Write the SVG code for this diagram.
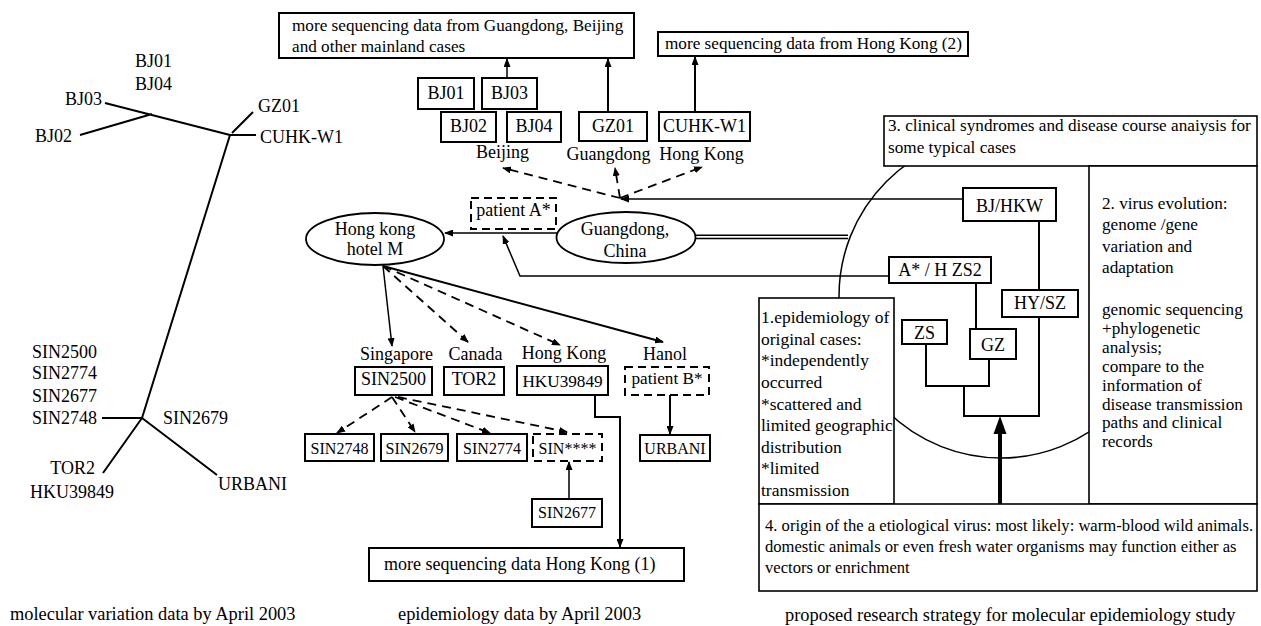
<svg xmlns="http://www.w3.org/2000/svg" width="1261" height="626" viewBox="0 0 1261 626">
<defs>
<marker id="ah" markerWidth="9" markerHeight="7" refX="8" refY="3.5" orient="auto" markerUnits="userSpaceOnUse"><path d="M0,0 L9,3.5 L0,7 z" fill="#000"/></marker>
<style>
text{font-family:"Liberation Serif","Times New Roman",serif;fill:#000}
.t18{font-size:18px}
.t17{font-size:17.2px}
.t16{font-size:16px}
.cap{font-size:18.4px}
.c{text-anchor:middle}
.e{text-anchor:end}
.box{fill:#fff;stroke:#000;stroke-width:2}
.box15{fill:#fff;stroke:#000;stroke-width:1.6}
.dbox{fill:#fff;stroke:#000;stroke-width:2;stroke-dasharray:8 5}
.ln{fill:none;stroke:#000;stroke-width:1.5}
.tk{fill:none;stroke:#000;stroke-width:2}
.ds{fill:none;stroke:#000;stroke-width:1.8;stroke-dasharray:9 6}
</style>
</defs>
<rect x="0" y="0" width="1261" height="626" fill="#fff"/>

<!-- left: molecular variation tree -->
<g id="tree">
<path class="tk" d="M105,103 L230,135 M80,135 L152,114 M232,133 L253,112 M230,135 L256,135 M230,135 L142,418 M102,418 L142,418 M142,418 L103,473 M142,418 L217,475"/>
<text class="t18" x="135" y="67">BJ01</text>
<text class="t18" x="135" y="90">BJ04</text>
<text class="t18" x="65" y="105">BJ03</text>
<text class="t18" x="35" y="142">BJ02</text>
<text class="t18" x="258" y="112">GZ01</text>
<text class="t18" x="260" y="143">CUHK-W1</text>
<text class="t18" x="32" y="358">SIN2500</text>
<text class="t18" x="32" y="379">SIN2774</text>
<text class="t18" x="32" y="402">SIN2677</text>
<text class="t18" x="32" y="424">SIN2748</text>
<text class="t18" x="163" y="424">SIN2679</text>
<text class="t18 e" x="95" y="474">TOR2</text>
<text class="t18" x="30" y="498">HKU39849</text>
<text class="t18" x="218" y="490">URBANI</text>
</g>

<!-- right: background circle -->
<g id="cycle">
<circle cx="1001" cy="296" r="162" class="ln"/>
</g>

<!-- connectors -->
<g id="connectors">
<path class="ln" d="M507,78 V59" marker-end="url(#ah)"/>
<path class="tk" d="M608,112 V59" marker-end="url(#ah)"/>
<path class="tk" d="M695,112 V57" marker-end="url(#ah)"/>
<path class="ds" d="M620,198 L503,168" marker-end="url(#ah)"/>
<path class="ds" d="M620,198 L615,168" marker-end="url(#ah)"/>
<path class="ds" d="M620,198 L702,167" marker-end="url(#ah)"/>
<path class="ln" d="M963,199 H621" marker-end="url(#ah)"/>
<path class="ln" d="M557,233 H445" marker-end="url(#ah)"/>
<path class="ln" d="M889,276 H520 L503,236" marker-end="url(#ah)"/>
<path class="ln" d="M696,235.2 H848 M696,238.6 H848"/>
<path class="ln" d="M383,266 L392,346" marker-end="url(#ah)"/>
<path class="ds" d="M383,266 L468,342" marker-end="url(#ah)"/>
<path class="ds" d="M383,266 L560,345" marker-end="url(#ah)"/>
<path class="tk" d="M383,266 L663,342" marker-end="url(#ah)"/>
<path class="ds" d="M392,397 L337,433" marker-end="url(#ah)"/>
<path class="ds" d="M392,397 L415,432" marker-end="url(#ah)"/>
<path class="ds" d="M395,397 L490,433" marker-end="url(#ah)"/>
<path class="ds" d="M398,397 L567,432" marker-end="url(#ah)"/>
<path class="ln" d="M569,499 V462" marker-end="url(#ah)"/>
<path class="tk" d="M670,395 V434" marker-end="url(#ah)"/>
<path class="tk" d="M595,395 V417 H620 V547" marker-end="url(#ah)"/>
<path class="tk" d="M1039,221 V416 H964 V386 M926,344 V386 H989 V359 M976,283 V329"/>
<path d="M1000,504 V430" fill="none" stroke="#000" stroke-width="4"/>
<path d="M1000,416 L993.5,434 L1006.5,434 z" fill="#000"/>
</g>

<!-- epidemiology nodes -->
<g id="n-more-gd-bj">
<rect class="box" x="279" y="13" width="355" height="45"/>
<text class="t17" x="292" y="31">more sequencing data from Guangdong, Beijing</text>
<text class="t17" x="292" y="52">and other mainland cases</text>
</g>
<g id="n-more-hk2">
<rect class="box" x="658" y="32" width="310" height="24"/>
<text class="t17" x="665" y="49">more sequencing data from Hong Kong (2)</text>
</g>
<g id="n-bj01"><rect class="box" x="418" y="78" width="56" height="31"/><text class="t18 c" x="446" y="99">BJ01</text></g>
<g id="n-bj03"><rect class="box" x="482" y="78" width="55" height="31"/><text class="t18 c" x="509.5" y="99">BJ03</text></g>
<g id="n-bj02"><rect class="box" x="441" y="112" width="55" height="30"/><text class="t18 c" x="468.5" y="132">BJ02</text></g>
<g id="n-bj04"><rect class="box" x="507" y="112" width="54" height="30"/><text class="t18 c" x="534" y="132">BJ04</text></g>
<g id="n-gz01"><rect class="box" x="579" y="112" width="68" height="29"/><text class="t18 c" x="613" y="132">GZ01</text></g>
<g id="n-cuhk"><rect class="box" x="659" y="112" width="91" height="29"/><text class="t18 c" x="704.5" y="132">CUHK-W1</text></g>
<g id="l-beijing"><text class="t18 c" x="502.5" y="158">Beijing</text></g>
<g id="l-guangdong"><text class="t18 c" x="608.5" y="160">Guangdong</text></g>
<g id="l-hongkong-top"><text class="t18 c" x="701.5" y="160">Hong Kong</text></g>

<g id="n-hotel">
<ellipse cx="375" cy="239" rx="69" ry="26" fill="#fff" stroke="#000" stroke-width="1.8"/>
<text class="t18 c" x="375" y="235">Hong kong</text>
<text class="t18 c" x="375" y="255">hotel M</text>
</g>
<g id="n-patientA"><rect class="dbox" x="471" y="198" width="85" height="31"/><text class="t18 c" x="513.5" y="216">patient A*</text></g>
<g id="n-guangdong-china">
<ellipse cx="626" cy="237.5" rx="69.5" ry="25.5" fill="#fff" stroke="#000" stroke-width="1.8"/>
<text class="t18 c" x="625" y="235">Guangdong,</text>
<text class="t18 c" x="625" y="257">China</text>
</g>

<g id="l-singapore"><text class="t18 c" x="396.5" y="360">Singapore</text></g>
<g id="l-canada"><text class="t18 c" x="475.5" y="360">Canada</text></g>
<g id="l-hongkong"><text class="t18 c" x="564" y="359">Hong Kong</text></g>
<g id="l-hanol"><text class="t18 c" x="665" y="360">Hanol</text></g>
<g id="n-sin2500"><rect class="box" x="355" y="367" width="77" height="28"/><text class="t18 c" x="393.5" y="385">SIN2500</text></g>
<g id="n-tor2"><rect class="box" x="444" y="367" width="60" height="28"/><text class="t18 c" x="474" y="385">TOR2</text></g>
<g id="n-hku"><rect class="box" x="517" y="366" width="91" height="29"/><text class="t17 c" x="562.5" y="387">HKU39849</text></g>
<g id="n-patientB"><rect class="dbox" x="625" y="367" width="84" height="28"/><text class="t17 c" x="667" y="384">patient B*</text></g>
<g id="n-sin2748"><rect class="box" x="305" y="434" width="69" height="27"/><text class="t16 c" x="339.5" y="453.5">SIN2748</text></g>
<g id="n-sin2679"><rect class="box" x="381" y="434" width="67" height="27"/><text class="t16 c" x="414.5" y="453.5">SIN2679</text></g>
<g id="n-sin2774"><rect class="box" x="457" y="434" width="70" height="27"/><text class="t16 c" x="492" y="453.5">SIN2774</text></g>
<g id="n-sinx"><rect class="dbox" x="533" y="434" width="69" height="27"/><text class="t16 c" x="567.5" y="453.5">SIN****</text></g>
<g id="n-urbani"><rect class="box" x="640" y="435" width="70" height="26"/><text class="t16 c" x="675" y="453.5">URBANI</text></g>
<g id="n-sin2677"><rect class="box" x="532" y="499" width="70" height="28"/><text class="t16 c" x="567" y="518">SIN2677</text></g>
<g id="n-more-hk1"><rect class="box" x="369" y="548" width="315" height="33"/><text class="t18" x="384" y="570">more sequencing data Hong Kong (1)</text></g>

<!-- strategy nodes -->
<g id="n-box3">
<rect class="box15" x="884" y="116" width="373" height="50"/>
<text class="t17" x="888" y="131">3. clinical syndromes and disease course anaiysis for</text>
<text class="t17" x="888" y="153">some typical cases</text>
</g>
<g id="n-box2">
<rect class="box15" x="1089" y="166" width="168" height="338"/>
<text class="t17" x="1102" y="208.5">2. virus evolution:</text>
<text class="t17" x="1102" y="230">genome /gene</text>
<text class="t17" x="1102" y="251.5">variation and</text>
<text class="t17" x="1102" y="273">adaptation</text>
<text class="t17" x="1102" y="315">genomic sequencing</text>
<text class="t17" x="1102" y="334">+phylogenetic</text>
<text class="t17" x="1102" y="353">analysis;</text>
<text class="t17" x="1102" y="372">compare to the</text>
<text class="t17" x="1102" y="390.5">information of</text>
<text class="t17" x="1102" y="409.5">disease transmission</text>
<text class="t17" x="1102" y="428">paths and clinical</text>
<text class="t17" x="1102" y="447">records</text>
</g>
<g id="n-box1">
<rect class="box15" x="759" y="298" width="135" height="206"/>
<g style="font-size:17.5px">
<text x="761" y="323">1.epidemiology of</text>
<text x="761" y="344.6">original cases:</text>
<text x="761" y="366">*independently</text>
<text x="761" y="388">occurred</text>
<text x="761" y="409.5">*scattered and</text>
<text x="761" y="431">limited geographic</text>
<text x="761" y="452.5">distribution</text>
<text x="761" y="474">*limited</text>
<text x="761" y="496">transmission</text>
</g>
</g>
<g id="n-box4">
<rect class="box15" x="759" y="504" width="498" height="87"/>
<g style="font-size:16.6px">
<text x="765" y="531">4. origin of the a etiological virus: most likely: warm-blood wild animals.</text>
<text x="765" y="552">domestic animals or even fresh water organisms may function either as</text>
<text x="765" y="573">vectors or enrichment</text>
</g>
</g>
<g id="n-bjhkw"><rect class="box" x="963" y="188" width="93" height="33"/><text class="t18 c" x="1009.5" y="212">BJ/HKW</text></g>
<g id="n-azs2"><rect class="box" x="889" y="257" width="102" height="26"/><text class="t18 c" x="940" y="276">A* / H ZS2</text></g>
<g id="n-hysz"><rect class="box" x="1002" y="290" width="76" height="27"/><text class="t18 c" x="1040" y="309">HY/SZ</text></g>
<g id="n-zs"><rect class="box" x="902" y="320" width="45" height="24"/><text class="t18 c" x="924.5" y="339">ZS</text></g>
<g id="n-gz"><rect class="box" x="970" y="329" width="46" height="30"/><text class="t18 c" x="993" y="351">GZ</text></g>

<!-- captions -->
<g id="captions">
<text class="cap" x="10" y="620">molecular variation data by April 2003</text>
<text class="cap" x="398" y="620">epidemiology data by April 2003</text>
<text class="cap" x="785" y="621">proposed research strategy for molecular epidemiology study</text>
</g>
</svg>
